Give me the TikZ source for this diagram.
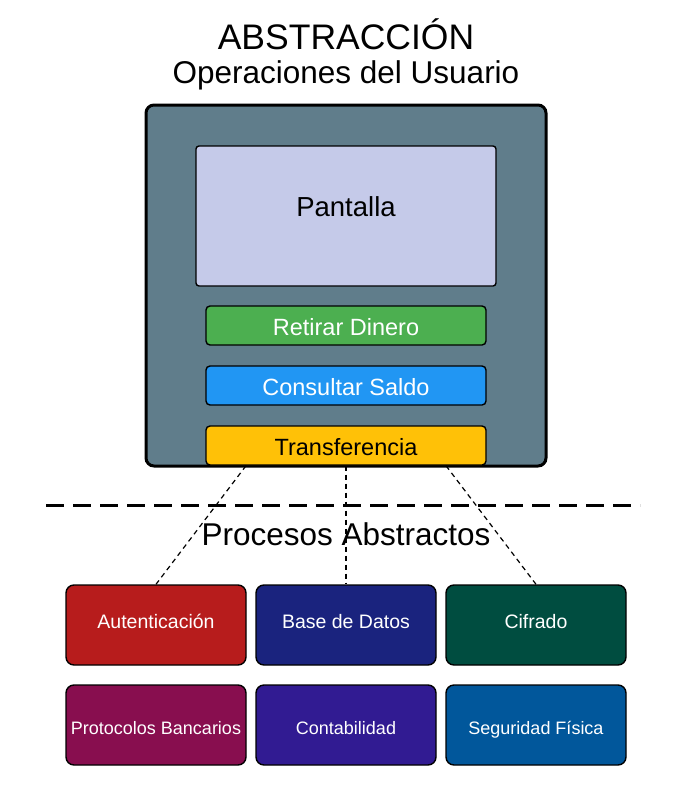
\documentclass[tikz,border=0pt]{standalone}
\usepackage{fontspec}
\setmainfont{Liberation Sans}
\usetikzlibrary{positioning}
\definecolor{atmgray}{HTML}{607D8B}
\definecolor{screenblue}{HTML}{C5CAE9}
\definecolor{btngreen}{HTML}{4CAF50}
\definecolor{btnblue}{HTML}{2196F3}
\definecolor{btnamber}{HTML}{FFC107}
\definecolor{procred}{HTML}{B71C1C}
\definecolor{procnavy}{HTML}{1A237E}
\definecolor{procteal}{HTML}{004D40}
\definecolor{procwine}{HTML}{880E4F}
\definecolor{procviolet}{HTML}{311B92}
\definecolor{procsea}{HTML}{01579B}

\begin{document}
\begin{tikzpicture}[%
  x=1pt, y=-1pt,
  button/.style={draw, line width=1.4pt, rounded corners=4pt,
    minimum width=280pt, minimum height=39pt, inner sep=0pt,
    text height=22.8pt, text depth=2pt,
    font=\fontsize{23.5}{26}\selectfont},
  procbox/.style={draw, line width=1.4pt, rounded corners=8pt,
    minimum width=180pt, minimum height=80pt, inner sep=0pt,
    text=white},
  procupper/.style={procbox, text height=10pt, text depth=4pt,
    font=\fontsize{19.5}{22}\selectfont},
  proclower/.style={procbox, text height=21pt, text depth=1.8pt,
    font=\fontsize{18}{20}\selectfont},
  link/.style={line width=1.2pt, dash pattern=on 5pt off 4pt},
]

  \useasboundingbox (0,0) rectangle (682,793);

  % titulo
  \node (title) at (346,34) {\fontsize{35.5}{40}\selectfont ABSTRACCIÓN};
  \node (subtitle) at (346,75) {\fontsize{31.5}{34}\selectfont Operaciones del Usuario};

  % cajero
  \node[draw, line width=3pt, rounded corners=8pt, fill=atmgray,
    minimum width=400pt, minimum height=361pt] (atm) at (346,285.5) {};
  \node[draw, line width=1.4pt, rounded corners=3pt, fill=screenblue,
    minimum width=300pt, minimum height=140pt, inner sep=0pt] (screen) at (346,216) {};
  \node (screentext) at (346,207) {\fontsize{27.5}{30}\selectfont Pantalla};

  \node[button, fill=btngreen, text=white] (retirar) at (346,325.5) {Retirar Dinero};
  \node[button, fill=btnblue, text=white] (consultar) at (346,385.5) {Consultar Saldo};
  \node[button, fill=btnamber] (transf) at (346,445.5) {Transferencia};

  % procesos
  \node[procupper, fill=procred] (auth) at (156,625) {Autenticación};
  \node[procupper, fill=procnavy] (datos) at (346,625) {Base de Datos};
  \node[procupper, fill=procteal] (cifrado) at (536,625) {Cifrado};
  \node[proclower, fill=procwine] (protocolos) at (156,725) {Protocolos Bancarios};
  \node[proclower, fill=procviolet] (contab) at (346,725) {Contabilidad};
  \node[proclower, fill=procsea] (seguridad) at (536,725) {Seguridad Física};

  \draw[link] ([xshift=-100pt]transf.south) -- (auth.north);
  \draw[link] (transf.south) -- (datos.north);
  \draw[link] ([xshift=100pt]transf.south) -- (cifrado.north);

  % separacion
  \coordinate (sepL) at (46,505);
  \coordinate (sepR) at (640,505);
  \draw[line width=3pt, dash pattern=on 18pt off 9pt] (sepL) -- (sepR);

  \node (proctitle) at (346,534) {\fontsize{31.5}{34}\selectfont Procesos Abstractos};

\end{tikzpicture}
\end{document}
